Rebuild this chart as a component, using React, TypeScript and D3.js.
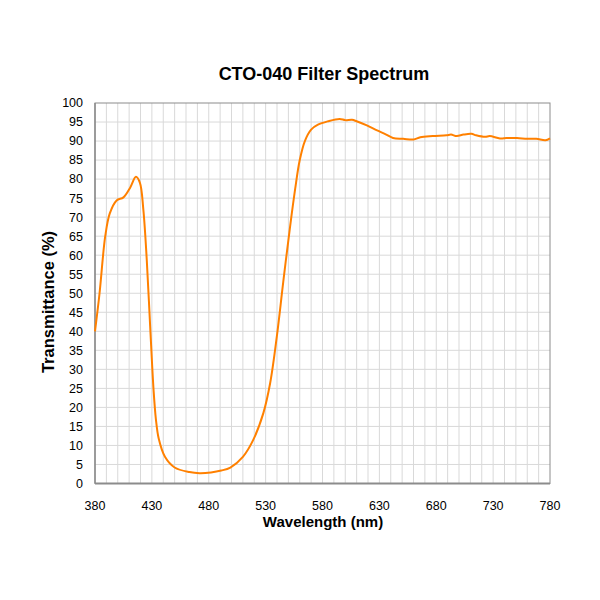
import { useEffect, useRef } from 'react';
import * as d3 from 'd3';

// Spectrum (nm, % transmittance)
const wavelengths = [
  380, 384, 389, 393, 399, 405, 411, 416, 419.5, 422.5, 425.5, 428.5, 431.5, 433.5, 436, 441.5, 450,
  463, 472, 482, 491, 499, 510, 519, 528, 534, 540, 545.5, 551.5, 556, 560, 564.5, 570, 576, 585,
  595, 600, 606, 610, 619, 628, 636, 642, 651, 660, 666, 677, 689, 693, 698, 704, 711, 715,
  723, 727, 736, 742, 751, 760, 768, 776, 780,
];
const transmittance = [
  40, 50, 65, 71, 74.4, 75.2, 77.8, 80.6, 79, 72, 58.8, 41.3, 24.5, 17, 11.8, 7, 4.2,
  3, 2.7, 2.9, 3.4, 4.2, 7, 11.4, 18.5, 26.4, 39, 53, 67.5, 77.5, 85, 90, 93, 94.3, 95.2,
  95.8, 95.5, 95.6, 95.2, 94.1, 92.8, 91.7, 90.8, 90.6, 90.4, 91, 91.3, 91.5, 91.7, 91.3, 91.7, 91.9, 91.5,
  91.1, 91.3, 90.7, 90.8, 90.8, 90.6, 90.6, 90.2, 90.7,
];
const xTicks = [380, 430, 480, 530, 580, 630, 680, 730, 780];
const yTicks = [0, 5, 10, 15, 20, 25, 30, 35, 40, 45, 50, 55, 60, 65, 70, 75, 80, 85, 90, 95, 100];

export default function App() {
  const ref = useRef<SVGSVGElement>(null);

  useEffect(() => {
    if (!ref.current) return;
    const margin = { top: 103, right: 50, bottom: 116.5, left: 95 };
    const width = 600 - margin.left - margin.right;
    const height = 600 - margin.top - margin.bottom;
    const font = 'Liberation Sans, Arial, sans-serif';

    const svg = d3.select(ref.current);
    svg.selectAll('*').remove();

    const g = svg.append('g').attr('transform', `translate(${margin.left},${margin.top})`);

    const x = d3.scaleLinear().domain([380, 780]).range([0, width]);
    const y = d3.scaleLinear().domain([0, 100]).range([height, 0]);

    // Gridlines every 10 nm and every 5 %
    g.append('g')
      .selectAll('line')
      .data(d3.range(390, 780, 10))
      .join('line')
      .attr('x1', d => x(d))
      .attr('x2', d => x(d))
      .attr('y1', 0)
      .attr('y2', height)
      .attr('stroke', '#d9d9d9')
      .attr('stroke-width', 1);

    g.append('g')
      .selectAll('line')
      .data(yTicks.slice(1, -1))
      .join('line')
      .attr('x1', 0)
      .attr('x2', width)
      .attr('y1', d => y(d))
      .attr('y2', d => y(d))
      .attr('stroke', '#d9d9d9')
      .attr('stroke-width', 1);

    // Frame
    g.append('rect')
      .attr('width', width)
      .attr('height', height)
      .attr('fill', 'none')
      .attr('stroke', '#8c8c8c')
      .attr('stroke-width', 1);

    // Axis lines
    g.append('line')
      .attr('x1', 0).attr('x2', width).attr('y1', height).attr('y2', height)
      .attr('stroke', '#8c8c8c').attr('stroke-width', 2);
    g.append('line')
      .attr('x1', 0).attr('x2', 0).attr('y1', 0).attr('y2', height)
      .attr('stroke', '#8c8c8c').attr('stroke-width', 1.5);

    // Tick labels
    g.append('g')
      .selectAll('text')
      .data(xTicks)
      .join('text')
      .attr('x', d => x(d))
      .attr('y', height + 26.5)
      .attr('text-anchor', 'middle')
      .attr('font-family', font)
      .attr('font-size', 12.5)
      .attr('fill', '#000')
      .text(d => d);

    g.append('g')
      .selectAll('text')
      .data(yTicks)
      .join('text')
      .attr('x', -12)
      .attr('y', d => y(d))
      .attr('dy', '0.35em')
      .attr('text-anchor', 'end')
      .attr('font-family', font)
      .attr('font-size', 12.5)
      .attr('fill', '#000')
      .text(d => d);

    // Spectrum line
    const pts = wavelengths.map((w, i) => [w, transmittance[i]] as [number, number]);
    const line = d3
      .line<[number, number]>()
      .x(d => x(d[0]))
      .y(d => y(d[1]))
      .curve(d3.curveCatmullRom.alpha(0.5));

    g.append('path')
      .datum(pts)
      .attr('fill', 'none')
      .attr('stroke', '#ff8000')
      .attr('stroke-width', 2)
      .attr('stroke-linejoin', 'round')
      .attr('d', line);

    // Title and axis labels
    svg.append('text')
      .attr('x', 324)
      .attr('y', 80)
      .attr('text-anchor', 'middle')
      .attr('font-family', font)
      .attr('font-weight', 'bold')
      .attr('font-size', 18)
      .text('CTO-040 Filter Spectrum');

    svg.append('text')
      .attr('x', 323)
      .attr('y', 527)
      .attr('text-anchor', 'middle')
      .attr('font-family', font)
      .attr('font-weight', 'bold')
      .attr('font-size', 15)
      .text('Wavelength (nm)');

    svg.append('text')
      .attr('transform', 'translate(48,302) rotate(-90)')
      .attr('text-anchor', 'middle')
      .attr('font-family', font)
      .attr('font-weight', 'bold')
      .attr('font-size', 16.5)
      .attr('dy', '0.35em')
      .text('Transmittance (%)');
  }, []);

  return (
    <svg
      ref={ref}
      width={600}
      height={600}
      style={{ position: 'absolute', left: 0, top: 0, background: '#fff' }}
    />
  );
}
